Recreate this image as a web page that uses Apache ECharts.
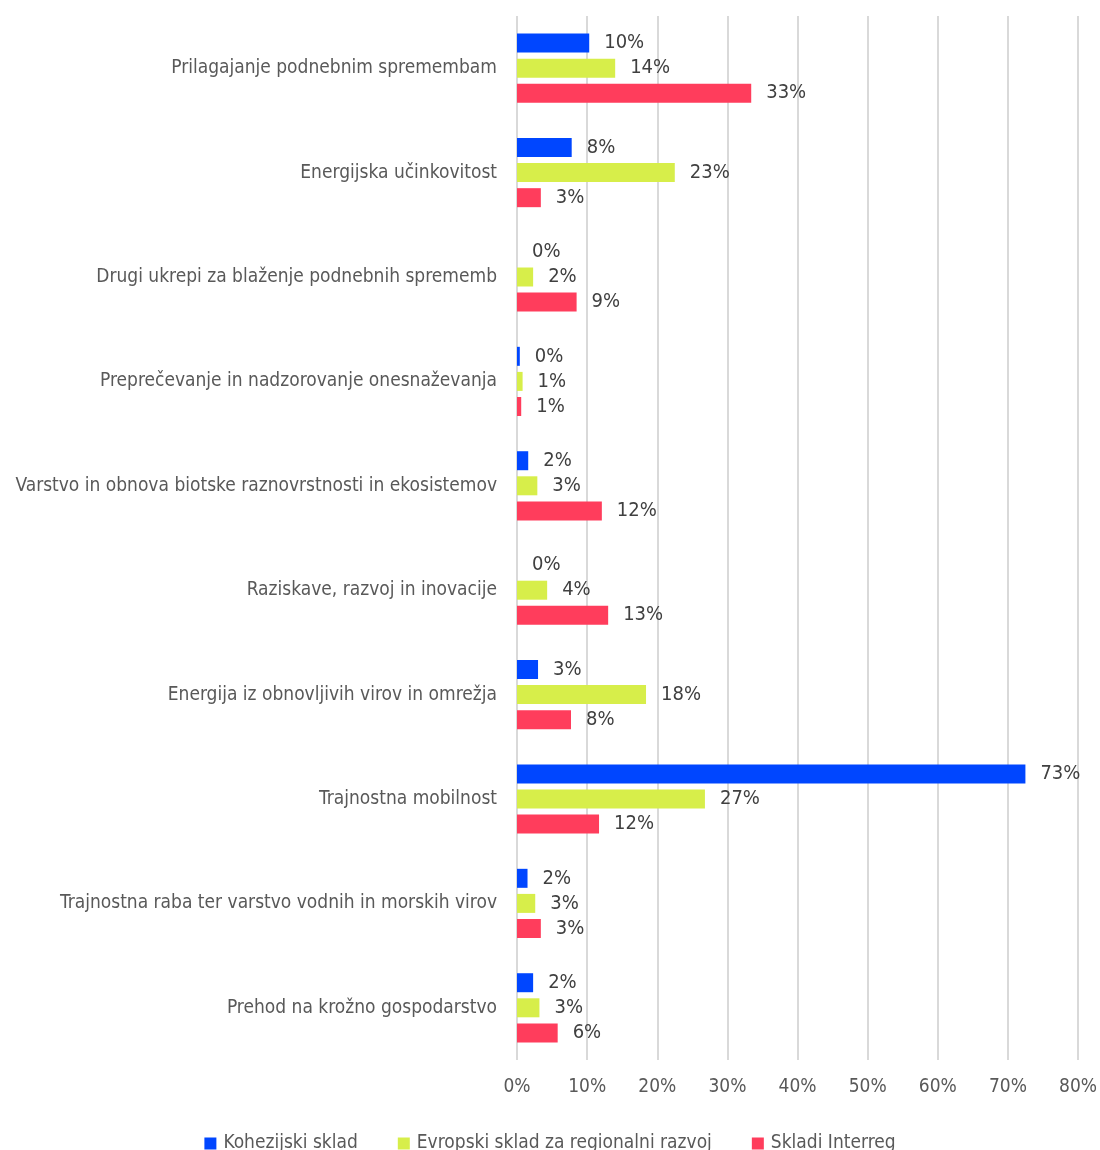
<!DOCTYPE html>
<html>
<head>
<meta charset="utf-8">
<script src="https://cdn.jsdelivr.net/npm/echarts@6/dist/echarts.min.js"></script>
<style>
  html, body { margin: 0; padding: 0; background: #ffffff; }
  #chart { width: 1100px; height: 1150px; }
</style>
</head>
<body>
<div id="chart"></div>
<script>
// Thematic areas (top to bottom)
const categories = [
  'Prilagajanje podnebnim spremembam',
  'Energijska učinkovitost',
  'Drugi ukrepi za blaženje podnebnih sprememb',
  'Preprečevanje in nadzorovanje onesnaževanja',
  'Varstvo in obnova biotske raznovrstnosti in ekosistemov',
  'Raziskave, razvoj in inovacije',
  'Energija iz obnovljivih virov in omrežja',
  'Trajnostna mobilnost',
  'Trajnostna raba ter varstvo vodnih in morskih virov',
  'Prehod na krožno gospodarstvo'
];

// Shares per fund, in percent
const kohezijskiSklad = [10.3, 7.8, 0, 0.4, 1.6, 0, 3.0, 72.5, 1.5, 2.3];
const esrr = [14.0, 22.5, 2.3, 0.8, 2.9, 4.3, 18.4, 26.8, 2.6, 3.2];
const interreg = [33.4, 3.4, 8.5, 0.6, 12.1, 13.0, 7.7, 11.7, 3.4, 5.8];

const seriesNames = ['Kohezijski sklad', 'Evropski sklad za regionalni razvoj', 'Skladi Interreg'];
const xTicks = [0, 10, 20, 30, 40, 50, 60, 70, 80];

const colors = ['#0046ff', '#d7ee4a', '#ff3d5c'];
const FONT = "'DejaVu Sans Condensed', 'Liberation Sans Narrow', 'Roboto', sans-serif";

function barSeries(name, data, color) {
  return {
    name: name,
    type: 'bar',
    data: data,
    barWidth: 19,
    barGap: '32%',
    barCategoryGap: '34%',
    itemStyle: { color: color },
    label: {
      show: true,
      position: 'right',
      distance: 15,
      color: '#404040',
      fontFamily: FONT,
      fontSize: 20,
      formatter: p => Math.round(p.value) + '%'
    }
  };
}

const chart = echarts.init(document.getElementById('chart'), null, { renderer: 'canvas' });
chart.setOption({
  animation: false,
  backgroundColor: '#ffffff',
  color: colors,
  grid: { left: 517, right: 22, top: 16, bottom: 90, containLabel: false, outerBoundsMode: 'none' },
  legend: {
    top: 1129,
    left: 'center',
    itemWidth: 12,
    itemHeight: 12,
    itemGap: 40,
    icon: 'rect',
    textStyle: { color: '#595959', fontFamily: FONT, fontSize: 19, padding: [0, 0, 0, 2] },
    data: seriesNames
  },
  xAxis: {
    type: 'value',
    min: xTicks[0],
    max: xTicks[xTicks.length - 1],
    interval: 10,
    axisLine: { show: false },
    axisTick: { show: false },
    splitLine: { show: true, lineStyle: { color: '#d9d9d9', width: 2 } },
    axisLabel: {
      color: '#595959',
      fontFamily: FONT,
      fontSize: 19,
      margin: 18,
      formatter: v => v + '%'
    }
  },
  yAxis: {
    type: 'category',
    data: categories,
    inverse: true,
    axisLine: { show: false },
    axisTick: { show: false },
    splitLine: { show: false },
    axisLabel: {
      color: '#595959',
      fontFamily: FONT,
      fontSize: 19,
      margin: 20
    }
  },
  series: [
    barSeries(seriesNames[0], kohezijskiSklad, colors[0]),
    barSeries(seriesNames[1], esrr, colors[1]),
    barSeries(seriesNames[2], interreg, colors[2])
  ]
});
</script>
</body>
</html>
